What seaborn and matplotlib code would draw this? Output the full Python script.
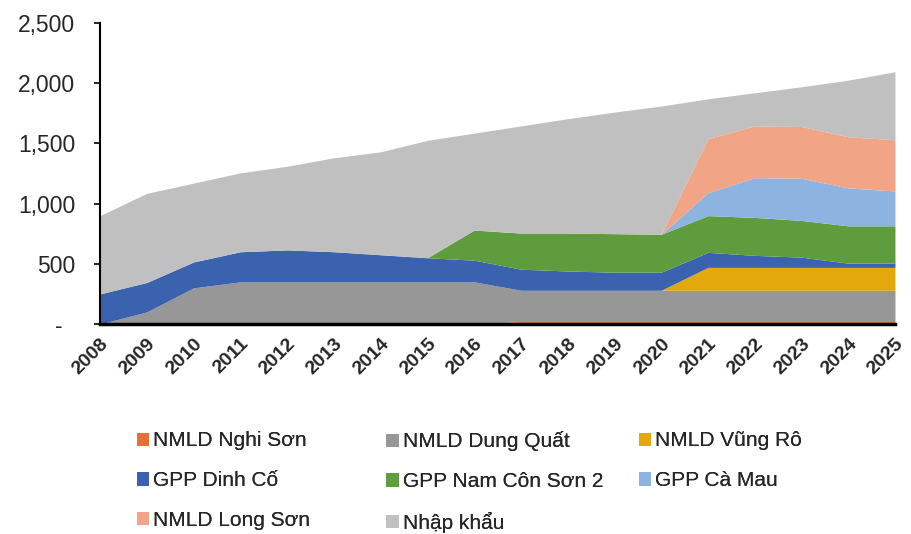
import numpy as np
import pandas as pd
import matplotlib.pyplot as plt
import seaborn as sns
from matplotlib.patches import Patch
from matplotlib.ticker import FuncFormatter

years = list(range(2008, 2026))

nghi_son = [0, 0, 0, 0, 0, 0, 0, 0, 0, 20, 20, 20, 20, 20, 20, 20, 20, 20]
dung_quat = [0, 100, 300, 350, 350, 350, 350, 350, 350, 260, 260, 260, 260, 260, 260, 260, 260, 260]
vung_ro = [0, 0, 0, 0, 0, 0, 0, 0, 0, 0, 0, 0, 0, 190, 190, 190, 190, 190]
dinh_co = [250, 245, 215, 250, 265, 250, 225, 200, 180, 175, 160, 150, 150, 125, 100, 85, 35, 35]
nam_con_son = [0, 0, 0, 0, 0, 0, 0, 0, 250, 300, 315, 320, 315, 305, 315, 305, 310, 310]
ca_mau = [0, 0, 0, 0, 0, 0, 0, 0, 0, 0, 0, 0, 0, 190, 330, 350, 315, 290]
long_son = [0, 0, 0, 0, 0, 0, 0, 0, 0, 0, 0, 0, 0, 450, 430, 430, 425, 425]
nhap_khau = [650, 740, 655, 655, 695, 780, 855, 975, 805, 890, 950, 1010, 1065, 330, 275, 330, 470, 565]

labels = ['NMLD Nghi Sơn', 'NMLD Dung Quất', 'NMLD Vũng Rô', 'GPP Dinh Cố',
          'GPP Nam Côn Sơn 2', 'GPP Cà Mau', 'NMLD Long Sơn', 'Nhập khẩu']
colors = ['#E07334', '#979797', '#E3A80C', '#3A62AE', '#5E9C3E', '#8DB4E0', '#F2A486', '#C0C0C0']

df = pd.DataFrame({'year': years, labels[0]: nghi_son, labels[1]: dung_quat,
                   labels[2]: vung_ro, labels[3]: dinh_co, labels[4]: nam_con_son,
                   labels[5]: ca_mau, labels[6]: long_son, labels[7]: nhap_khau})

sns.set_theme(style='white')
plt.rcParams['font.family'] = ['Liberation Sans', 'DejaVu Sans']

fig = plt.figure(figsize=(9.11, 5.34), dpi=100)
ax = fig.add_axes([0.1098, 0.3933, 0.8726, 0.5637])

ax.stackplot(df['year'], [df[c] for c in labels], colors=colors, linewidth=0)

ax.set_xlim(2008, 2025)
ax.set_ylim(0, 2500)
ax.set_yticks([0, 500, 1000, 1500, 2000, 2500])
ax.yaxis.set_major_formatter(FuncFormatter(lambda v, p: '-  ' if v == 0 else f'{v:,.0f}'))
ax.set_xticks(years)
ax.set_xticklabels([str(y) for y in years], rotation=45, ha='right',
                   rotation_mode='anchor', fontweight='bold', fontsize=14)
ax.tick_params(axis='y', labelsize=16.5, left=True, length=4, width=1.2, color='black', pad=14)
ax.tick_params(axis='x', bottom=False, pad=2)

sns.despine(ax=ax)
ax.spines['left'].set_color('black')
ax.spines['left'].set_linewidth(1.5)
ax.spines['bottom'].set_color('black')
ax.spines['bottom'].set_linewidth(2.5)
ax.set_xlabel('')
ax.set_ylabel('')

# legend laid out like the excel one: three fixed-width columns, filled row by row
columns = [[0, 3, 6], [1, 4, 7], [2, 5]]
col_x = [0.150, 0.424, 0.701]
for idx, x0 in zip(columns, col_x):
    handles = [Patch(facecolor=colors[i], edgecolor='none') for i in idx]
    leg = fig.legend(handles, [labels[i] for i in idx], loc='upper left',
                     bbox_to_anchor=(x0, 0.192), frameon=False, fontsize=15,
                     handlelength=0.6, handleheight=0.6, handletextpad=0.2,
                     labelspacing=1.0, borderpad=0, borderaxespad=0)
    fig.add_artist(leg)

fig.savefig('out.png', dpi=100)
